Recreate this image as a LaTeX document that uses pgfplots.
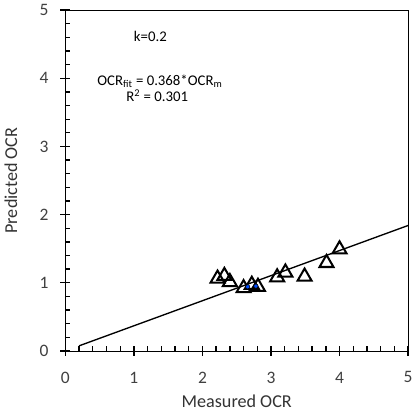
\documentclass[border=0pt]{standalone}
\usepackage{pgfplots}
\pgfplotsset{compat=1.18}
\usepackage{fontspec}
\setmainfont{Carlito}
\begin{document}
\begin{tikzpicture}
\begin{axis}[
  scale only axis,
  width=255pt, height=253.5pt,
  xmin=0, xmax=5, ymin=0, ymax=5,
  xtick={0,1,2,3,4,5}, ytick={0,1,2,3,4,5},
  xtick pos=bottom, ytick pos=left,
  tick align=center,
  major tick length=7.5pt,
  tick style={black, line width=1pt},
  extra x ticks={0.2,0.4,0.6,0.8,1.2,1.4,1.6,1.8,2.2,2.4,2.6,2.8,3.2,3.4,3.6,3.8,4.2,4.4,4.6,4.8},
  extra y ticks={0.2,0.4,0.6,0.8,1.2,1.4,1.6,1.8,2.2,2.4,2.6,2.8,3.2,3.4,3.6,3.8,4.2,4.4,4.6,4.8},
  extra x tick labels={}, extra y tick labels={},
  extra x tick style={tick align=inside, major tick length=3.75pt, tick style={black, line width=1pt}},
  extra y tick style={tick align=inside, major tick length=3.75pt, tick style={black, line width=1pt}},
  /pgf/number format/assume math mode=true,
  ticklabel style={font=\fontsize{13}{15}\selectfont, text=black!75},
  xticklabel style={anchor=center, yshift=-16pt},
  yticklabel style={anchor=center, xshift=-12pt},
  xlabel={Measured OCR}, ylabel={Predicted OCR},
  label style={font=\fontsize{13.5}{15}\selectfont, text=black!80},
  xlabel style={at={(axis description cs:0.5,-0.148)}, anchor=center},
  ylabel style={at={(axis description cs:-0.159,0.5)}, anchor=center},
  clip=false,
]
\addplot[black, line width=1pt] coordinates {(0.2,0.0736) (5,1.84)};
\addplot[only marks, mark=triangle, mark size=6pt, line width=1.5pt, black, mark options={fill=white}] coordinates {
(2.22,1.06) (2.32,1.10) (2.40,1.01) (2.60,0.92) (2.72,0.97) (2.81,0.94)
(3.09,1.08) (3.21,1.15) (3.49,1.09) (3.81,1.29) (4.00,1.49)};
\addplot[only marks, mark=*, mark size=1.6pt, draw=none, fill=blue!70!cyan] coordinates {(2.66,0.94) (2.78,0.95)};
\node[font=\fontsize{11}{13}\selectfont] at (axis cs:1.24,4.61) {k=0.2};
\node[font=\fontsize{11}{13}\selectfont] at (axis cs:1.38,3.96) {OCR\textsubscript{fit} = 0.368*OCR\textsubscript{m}};
\node[font=\fontsize{11}{13}\selectfont] at (axis cs:1.34,3.74) {R\textsuperscript{2} = 0.301};
\end{axis}
\end{tikzpicture}
\end{document}
